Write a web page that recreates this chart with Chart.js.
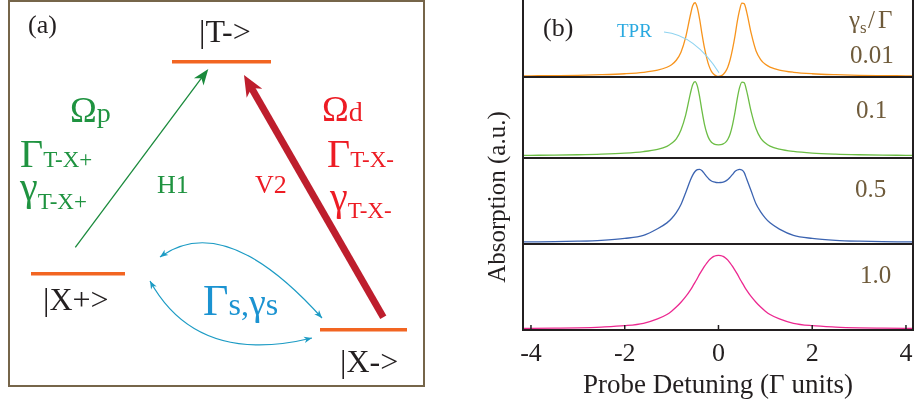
<!DOCTYPE html>
<html>
<head>
<meta charset="utf-8">
<script src="https://cdn.jsdelivr.net/npm/chart.js@4.4.0/dist/chart.umd.min.js"></script>
<style>
  html, body { margin: 0; padding: 0; background: #fff; }
  #wrap { position: relative; width: 915px; height: 409px; overflow: hidden; }
  #chartBox { position: absolute; left: 480px; top: 0; width: 435px; height: 409px; }
  #overlay { position: absolute; left: 0; top: 0; pointer-events: none; }
  #overlay text { font-family: 'Liberation Serif', 'Times New Roman', serif; }
</style>
</head>
<body>
<div id="wrap">
  <div id="chartBox"><canvas id="absChart" width="435" height="409"></canvas></div>
  <svg id="overlay" xmlns="http://www.w3.org/2000/svg" width="915" height="409" viewBox="0 0 915 409">
    <!-- panel (a): level scheme -->
    <rect x="9" y="1" width="415" height="385" fill="none" stroke="#76654a" stroke-width="2"/>
    <text x="28" y="33" font-size="26" fill="#231f20">(a)</text>
    <text x="199" y="42" font-size="32" fill="#231f20">|T-&gt;</text>
    <text x="43" y="310" font-size="32" fill="#231f20">|X+&gt;</text>
    <text x="340" y="372" font-size="32" fill="#231f20">|X-&gt;</text>

    <text x="70" y="122" fill="#1f9340"><tspan font-size="36">Ω</tspan><tspan font-size="28">p</tspan></text>
    <text x="20" y="167" fill="#1f9340"><tspan font-size="40">Γ</tspan><tspan font-size="23">T-X+</tspan></text>
    <text x="20" y="200" fill="#1f9340"><tspan font-size="40">γ</tspan><tspan font-size="23" y="209">T-X+</tspan></text>
    <text x="157" y="193" font-size="26" fill="#1f9340">H1</text>

    <text x="322" y="121" fill="#ed1c24"><tspan font-size="36">Ω</tspan><tspan font-size="28">d</tspan></text>
    <text x="327" y="167" fill="#ed1c24"><tspan font-size="40">Γ</tspan><tspan font-size="23">T-X-</tspan></text>
    <text x="330" y="210" fill="#ed1c24"><tspan font-size="40">γ</tspan><tspan font-size="23" y="218">T-X-</tspan></text>
    <text x="255" y="193" font-size="26" fill="#ed1c24">V2</text>

    <text x="203" y="315" fill="#1b93d1"><tspan font-size="44">Γ</tspan><tspan font-size="32">s,</tspan><tspan font-size="38">γ</tspan><tspan font-size="32">s</tspan></text>

    <g id="arrows"></g>

    <line x1="172" y1="61.7" x2="271" y2="61.7" stroke="#f26522" stroke-width="3.5"/>
    <line x1="31" y1="273.8" x2="125" y2="273.8" stroke="#f26522" stroke-width="3.5"/>
    <line x1="320" y1="329.7" x2="407" y2="329.7" stroke="#f26522" stroke-width="3.5"/>

    <!-- panel (b) annotations -->
    <text x="543" y="36" font-size="26" fill="#231f20">(b)</text>
    <text x="617" y="37" font-size="19" fill="#29a9e0">TPR</text>
    <path d="M664,32 Q695,35 719,72.7" fill="none" stroke="#8ed3f0" stroke-width="1.1"/>
    <text x="849" y="28" fill="#6f5b3b"><tspan font-size="25">γ</tspan><tspan font-size="17" y="33">s</tspan></text>
    <text x="868" y="28" font-size="25" fill="#6f5b3b">/</text>
    <text x="878" y="28" font-size="25" fill="#6f5b3b">Γ</text>
    <g id="gammaText" font-size="25" fill="#6f5b3b"></g>
    <text transform="translate(505,197) rotate(-90)" text-anchor="middle" font-size="25" fill="#231f20">Absorption (a.u.)</text>
  </svg>
</div>
<script>
// probe detuning in units of Gamma
const detuning = [-4.17, -4, -3.5, -3, -2.5, -2, -1.6, -1.3, -1.1, -1, -0.9, -0.8, -0.7, -0.6, -0.55, -0.5, -0.45, -0.4, -0.35, -0.3, -0.25, -0.2, -0.15, -0.1, -0.05, 0,
                  0.05, 0.1, 0.15, 0.2, 0.25, 0.3, 0.35, 0.4, 0.45, 0.5, 0.55, 0.6, 0.7, 0.8, 0.9, 1, 1.1, 1.3, 1.6, 2, 2.5, 3, 3.5, 4, 4.15];

// absorption (peak ~ 1)
const absorb001 = [0.008, 0.009, 0.012, 0.016, 0.024, 0.037, 0.056, 0.085, 0.125, 0.16, 0.22, 0.33, 0.53, 0.83, 0.96, 1.0, 0.93, 0.77, 0.57, 0.39, 0.25, 0.14, 0.07, 0.03, 0.008, 0.0,
                   0.007, 0.028, 0.065, 0.13, 0.23, 0.37, 0.54, 0.74, 0.9, 0.995, 0.985, 0.88, 0.58, 0.35, 0.23, 0.165, 0.128, 0.087, 0.057, 0.037, 0.024, 0.016, 0.012, 0.009, 0.008];
const absorb01 = [0.008, 0.009, 0.012, 0.017, 0.025, 0.039, 0.06, 0.09, 0.13, 0.17, 0.23, 0.35, 0.55, 0.84, 0.96, 1.0, 0.94, 0.79, 0.6, 0.43, 0.31, 0.23, 0.185, 0.163, 0.152, 0.15,
                  0.152, 0.162, 0.183, 0.225, 0.3, 0.42, 0.58, 0.77, 0.92, 0.995, 0.985, 0.88, 0.59, 0.37, 0.24, 0.175, 0.133, 0.092, 0.061, 0.039, 0.025, 0.017, 0.012, 0.009, 0.008];
const absorb05 = [0.01, 0.011, 0.014, 0.02, 0.032, 0.058, 0.1, 0.19, 0.27, 0.33, 0.41, 0.52, 0.68, 0.85, 0.92, 0.97, 0.995, 1.0, 0.98, 0.94, 0.9, 0.865, 0.84, 0.827, 0.82, 0.818,
                  0.82, 0.826, 0.838, 0.86, 0.893, 0.93, 0.97, 0.99, 1.0, 0.99, 0.955, 0.87, 0.7, 0.53, 0.42, 0.335, 0.27, 0.185, 0.1, 0.058, 0.032, 0.02, 0.014, 0.011, 0.01];
const absorb10 = [0.01, 0.011, 0.015, 0.02, 0.03, 0.048, 0.08, 0.14, 0.2, 0.245, 0.3, 0.365, 0.44, 0.53, 0.58, 0.635, 0.69, 0.75, 0.8, 0.85, 0.895, 0.935, 0.965, 0.985, 0.996, 1.0,
                  0.996, 0.985, 0.965, 0.935, 0.895, 0.85, 0.8, 0.75, 0.69, 0.635, 0.58, 0.53, 0.44, 0.365, 0.3, 0.245, 0.2, 0.14, 0.08, 0.048, 0.03, 0.02, 0.015, 0.011, 0.01];

const xTicks = [-4, -2, 0, 2, 4];
const gammaRatios = ['0.01', '0.1', '0.5', '1.0'];
const lineColors = ['#f7941d', '#6cbd45', '#3c64b1', '#ec2890'];

Chart.defaults.font.family = "'Liberation Serif', 'Times New Roman', serif";

function pts(ys) {
  return detuning.map((x, i) => ({ x: x, y: ys[i] }));
}

// frame, panel separators and inward ticks
const framePlugin = {
  id: 'frame',
  afterDraw(chart) {
    const { ctx, chartArea: a, scales } = chart;
    ctx.save();
    ctx.strokeStyle = '#231f20';
    ctx.lineWidth = 2;
    ctx.beginPath();
    ctx.moveTo(a.left, a.top); ctx.lineTo(a.left, a.bottom);
    ctx.lineTo(a.right, a.bottom); ctx.lineTo(a.right, a.top);
    ['yOrange', 'yGreen', 'yBlue'].forEach(id => {
      const y = scales[id].bottom;
      ctx.moveTo(a.left, y); ctx.lineTo(a.right, y);
    });
    ctx.stroke();
    ctx.lineWidth = 1.5;
    xTicks.forEach(v => {
      const x = scales.x.getPixelForValue(v);
      ctx.beginPath(); ctx.moveTo(x, a.bottom); ctx.lineTo(x, a.bottom - 5); ctx.stroke();
    });
    ctx.restore();
  }
};

function curve(ys, axis, color) {
  return { data: pts(ys), yAxisID: axis, borderColor: color, borderWidth: 1.3,
           pointRadius: 0, cubicInterpolationMode: 'monotone', fill: false };
}

const hiddenY = (weight, min, max) => ({ type: 'linear', display: false, stack: 'abs', stackWeight: weight, min: min, max: max });

new Chart(document.getElementById('absChart'), {
  type: 'line',
  data: {
    datasets: [
      curve(absorb001, 'yOrange', lineColors[0]),
      curve(absorb01, 'yGreen', lineColors[1]),
      curve(absorb05, 'yBlue', lineColors[2]),
      curve(absorb10, 'yPink', lineColors[3])
    ]
  },
  options: {
    responsive: false,
    animation: false,
    layout: { padding: { left: 43, right: 2, top: 0, bottom: 0 } },
    plugins: { legend: { display: false }, tooltip: { enabled: false } },
    scales: {
      x: {
        type: 'linear', min: -4.17, max: 4.15,
        afterBuildTicks: s => { s.ticks = xTicks.map(v => ({ value: v })); },
        afterFit: s => { s.height = 79; },
        grid: { display: false },
        border: { display: false },
        ticks: { font: { size: 26 }, color: '#231f20', padding: 1, maxRotation: 0, autoSkip: false },
        title: { display: true, text: 'Probe Detuning (Γ units)', font: { size: 27 }, color: '#231f20',
                 padding: { top: 0, bottom: 7 } }
      },
      yPink: hiddenY(86, -0.01, 1.153),
      yBlue: hiddenY(86, -0.018, 1.154),
      yGreen: hiddenY(81, -0.027, 1.063),
      yOrange: hiddenY(77, -0.007, 1.037)
    }
  },
  plugins: [framePlugin]
});

// arrows of the level scheme
const NS = 'http://www.w3.org/2000/svg';
const arrowLayer = document.getElementById('arrows');

function el(tag, attrs) {
  const e = document.createElementNS(NS, tag);
  for (const k in attrs) e.setAttribute(k, attrs[k]);
  arrowLayer.appendChild(e);
  return e;
}

function head(tx, ty, ux, uy, len, half, color) {
  const nx = -uy, ny = ux;
  const bx = tx - ux * len, by = ty - uy * len;
  const mx = tx - ux * len * 0.72, my = ty - uy * len * 0.72;
  el('polygon', { points: `${tx},${ty} ${bx + nx * half},${by + ny * half} ${mx},${my} ${bx - nx * half},${by - ny * half}`, fill: color });
}

function straightArrow(x1, y1, x2, y2, w, len, half, color) {
  const d = Math.hypot(x2 - x1, y2 - y1), ux = (x2 - x1) / d, uy = (y2 - y1) / d;
  el('line', { x1: x1, y1: y1, x2: x2 - ux * len * 0.7, y2: y2 - uy * len * 0.7, stroke: color, 'stroke-width': w });
  head(x2, y2, ux, uy, len, half, color);
}

function bentArrow(p0, c, p2, color) {
  el('path', { d: `M${p0[0]},${p0[1]} Q${c[0]},${c[1]} ${p2[0]},${p2[1]}`, fill: 'none', stroke: color, 'stroke-width': 1.2 });
  let dx = p2[0] - c[0], dy = p2[1] - c[1], d = Math.hypot(dx, dy);
  head(p2[0], p2[1], dx / d, dy / d, 8, 3.2, color);
  dx = p0[0] - c[0]; dy = p0[1] - c[1]; d = Math.hypot(dx, dy);
  head(p0[0], p0[1], dx / d, dy / d, 8, 3.2, color);
}

straightArrow(75.3, 247.3, 208.3, 69, 1.3, 16, 6, '#1a8a3c');
straightArrow(383.3, 317.3, 244, 75, 7, 21, 9, '#be1e2d');
bentArrow([160, 257], [225, 210], [322, 318], '#1c9bc4');
bentArrow([150, 281], [197, 366], [312, 338], '#1c9bc4');

// gamma_s / Gamma value of each panel
const gammaPos = [[850, 63], [856, 118], [855, 197], [860, 283]];
const gLayer = document.getElementById('gammaText');
gammaRatios.forEach((t, i) => {
  const e = document.createElementNS(NS, 'text');
  e.setAttribute('x', gammaPos[i][0]);
  e.setAttribute('y', gammaPos[i][1]);
  e.textContent = t;
  gLayer.appendChild(e);
});
</script>
</body>
</html>
